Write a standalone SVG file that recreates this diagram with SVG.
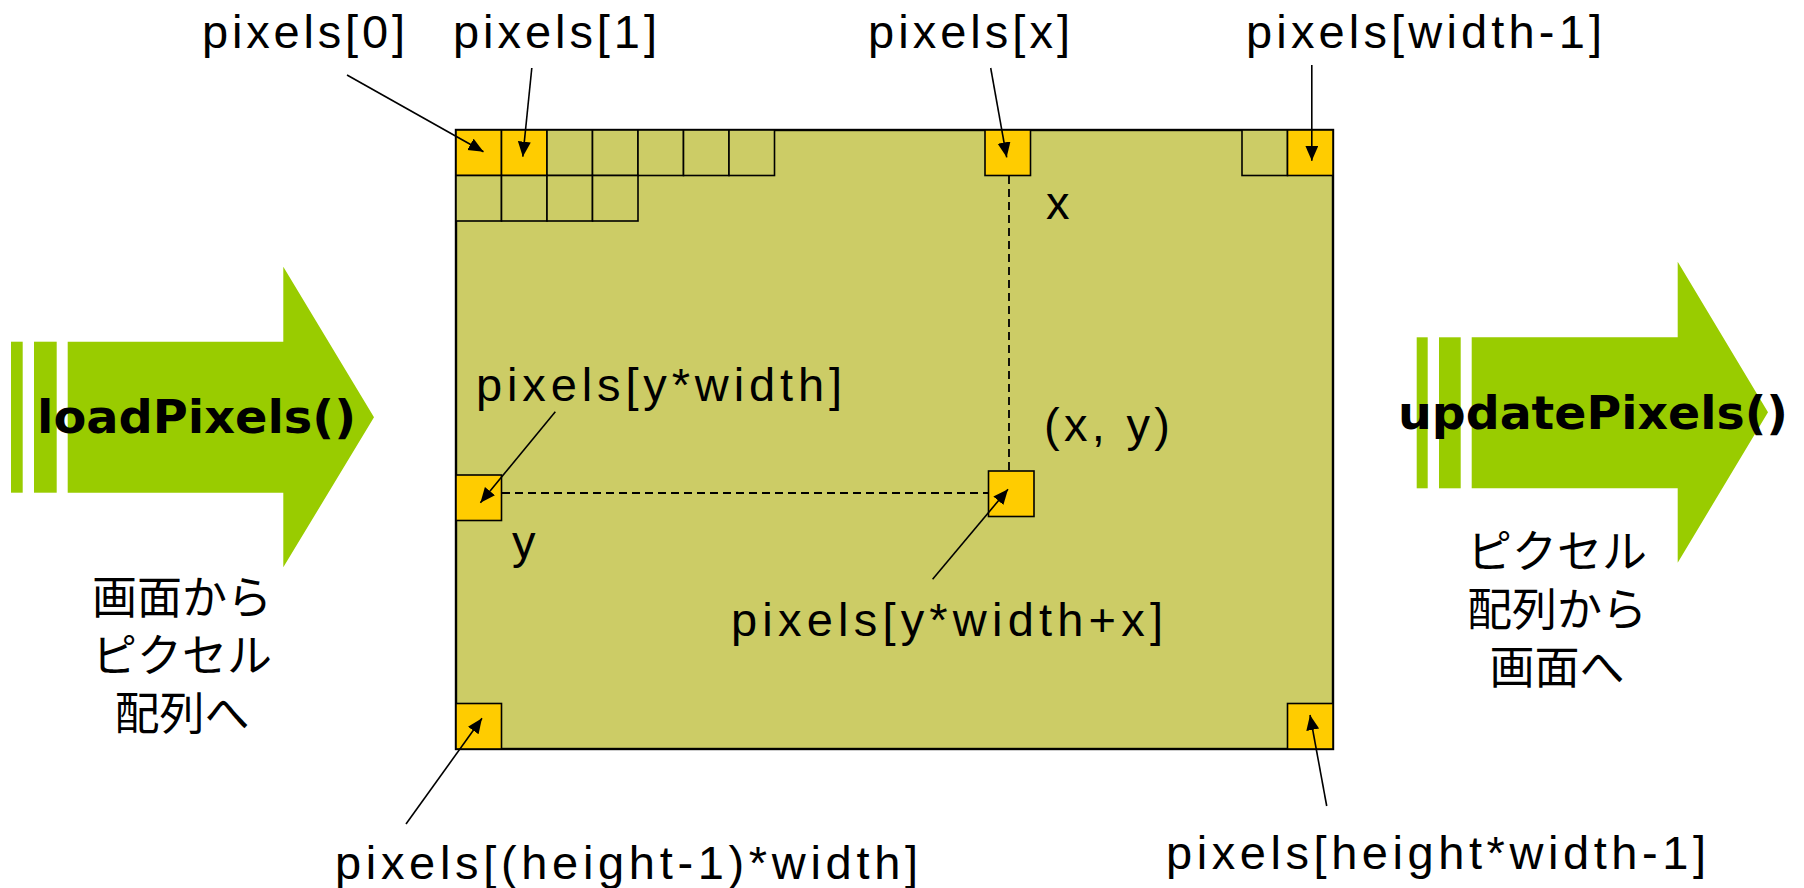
<svg xmlns="http://www.w3.org/2000/svg" width="1804" height="888" viewBox="0 0 1804 888">
<style>
.lbl{font-family:"Liberation Sans",Arial,sans-serif;font-size:47px;fill:#000}
.bold{font-family:"DejaVu Sans","Liberation Sans",sans-serif;font-weight:bold;font-size:47px;fill:#000}
.jp{font-family:"Noto Sans CJK JP","Liberation Sans",sans-serif;font-size:45px;fill:#000;text-anchor:middle}
.cell{fill:#CCCC66;stroke:#000;stroke-width:1.6}
.ycell{fill:#FFCC00;stroke:#000;stroke-width:1.6}
.green{fill:#99CC00}
.con{stroke:#000;stroke-width:1.6;fill:none;marker-end:url(#ah)}
.dash{stroke:#000;stroke-width:1.8;fill:none;stroke-dasharray:8,5}
</style>
<defs>
<marker id="ah" markerUnits="userSpaceOnUse" markerWidth="16" markerHeight="14" refX="15" refY="6.5" orient="auto">
<path d="M0,0 L15,6.5 L0,13 Z" fill="#000"/>
</marker>
</defs>
<rect width="1804" height="888" fill="#fff"/>

<g id="load-arrow">
<rect class="green" x="11" y="341.7" width="11.7" height="151"/>
<rect class="green" x="34" y="341.7" width="22.7" height="151"/>
<polygon class="green" points="67.7,341.7 283.3,341.7 283.3,266.7 374,417.3 283.3,567.3 283.3,492.7 67.7,492.7"/>
<text class="bold" x="37" y="433" textLength="319" lengthAdjust="spacingAndGlyphs">loadPixels()</text>
</g>
<g id="load-caption">
<text class="jp" x="182" y="614"><tspan x="182" y="614">画面から</tspan><tspan x="182" y="672">ピクセル</tspan><tspan x="182" y="730">配列へ</tspan></text>
</g>

<g id="update-arrow">
<rect class="green" x="1416.7" y="337.3" width="11" height="151"/>
<rect class="green" x="1439" y="337.3" width="21.7" height="151"/>
<polygon class="green" points="1471.7,337.3 1677.7,337.3 1677.7,261.7 1768,412.3 1677.7,562.7 1677.7,488.3 1471.7,488.3"/>
<text class="bold" x="1398" y="429" textLength="390" lengthAdjust="spacingAndGlyphs">updatePixels()</text>
</g>
<g id="update-caption">
<text class="jp" x="1557" y="568"><tspan x="1557" y="568">ピクセル</tspan><tspan x="1557" y="626">配列から</tspan><tspan x="1557" y="684">画面へ</tspan></text>
</g>

<g id="screen">
<rect x="456" y="130" width="877" height="619" fill="#CCCC66" stroke="#000" stroke-width="2.4"/>
</g>

<g id="grid">
<rect class="ycell" x="456" y="130" width="45.5" height="45.5"/>
<rect class="ycell" x="501.5" y="130" width="45.5" height="45.5"/>
<rect class="cell" x="547" y="130" width="45.5" height="45.5"/>
<rect class="cell" x="592.5" y="130" width="45.5" height="45.5"/>
<rect class="cell" x="638" y="130" width="45.5" height="45.5"/>
<rect class="cell" x="683.5" y="130" width="45.5" height="45.5"/>
<rect class="cell" x="729" y="130" width="45.5" height="45.5"/>
<rect class="cell" x="456" y="175.5" width="45.5" height="45.5"/>
<rect class="cell" x="501.5" y="175.5" width="45.5" height="45.5"/>
<rect class="cell" x="547" y="175.5" width="45.5" height="45.5"/>
<rect class="cell" x="592.5" y="175.5" width="45.5" height="45.5"/>
</g>
<g id="cell-x"><rect class="ycell" x="985" y="130" width="45.5" height="45.5"/></g>
<g id="cell-topright">
<rect class="cell" x="1242" y="130" width="45.5" height="45.5"/>
<rect class="ycell" x="1287.5" y="130" width="45.5" height="45.5"/>
</g>
<g id="cell-y"><rect class="ycell" x="456" y="475" width="45.5" height="45.5"/></g>
<g id="cell-xy"><rect class="ycell" x="988.5" y="471" width="45.5" height="45.5"/></g>
<g id="cell-bottomleft"><rect class="ycell" x="456" y="703.5" width="45.5" height="45.5"/></g>
<g id="cell-bottomright"><rect class="ycell" x="1287.5" y="703.5" width="45.5" height="45.5"/></g>

<g id="connectors">
<line class="dash" x1="1009" y1="176" x2="1009" y2="471"/>
<line class="dash" x1="502" y1="493" x2="988" y2="493"/>
<line class="con" x1="347" y1="75" x2="483.5" y2="151.7"/>
<line class="con" x1="531.8" y1="68" x2="522.8" y2="156.7"/>
<line class="con" x1="990.7" y1="68" x2="1006.7" y2="157.3"/>
<line class="con" x1="1311.8" y1="65" x2="1311.8" y2="160.7"/>
<line class="con" x1="555.3" y1="411.7" x2="480.4" y2="502.7"/>
<line class="con" x1="932.6" y1="579.3" x2="1008" y2="489.3"/>
<line class="con" x1="406" y1="824" x2="482" y2="718.3"/>
<line class="con" x1="1326.7" y1="806" x2="1310" y2="715"/>
</g>

<g id="labels">
<text class="lbl" x="202" y="48" textLength="203">pixels[0]</text>
<text class="lbl" x="453" y="48" textLength="204">pixels[1]</text>
<text class="lbl" x="868" y="48" textLength="202">pixels[x]</text>
<text class="lbl" x="1246" y="48" textLength="356">pixels[width-1]</text>
<text class="lbl" x="1046" y="219">x</text>
<text class="lbl" x="1044" y="441" textLength="126">(x, y)</text>
<text class="lbl" x="476" y="401" textLength="366">pixels[y*width]</text>
<text class="lbl" x="512" y="558">y</text>
<text class="lbl" x="731" y="636" textLength="432">pixels[y*width+x]</text>
<text class="lbl" x="335" y="879" textLength="583">pixels[(height-1)*width]</text>
<text class="lbl" x="1166" y="869" textLength="540">pixels[height*width-1]</text>
</g>
</svg>
